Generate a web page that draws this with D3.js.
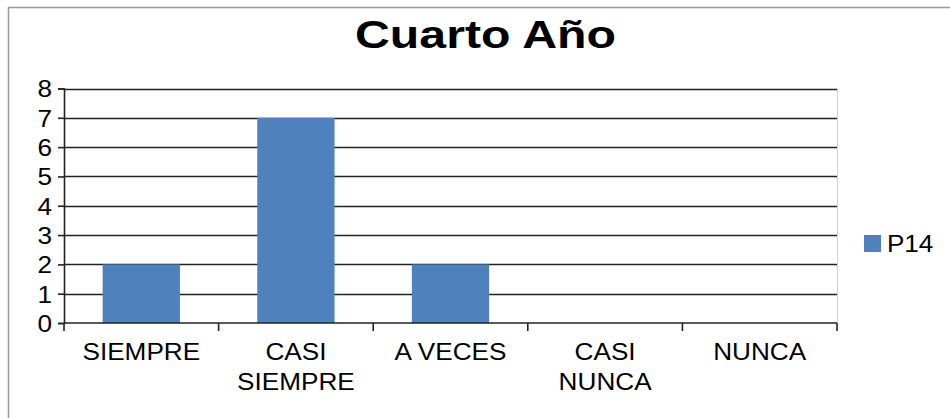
<!DOCTYPE html>
<html>
<head>
<meta charset="utf-8">
<script src="https://cdn.jsdelivr.net/npm/d3@7"></script>
<style>
  body { margin: 0; background: #fff; }
  text { font-family: "Liberation Sans", Arial, sans-serif; fill: #000; }
</style>
</head>
<body>
<script>
const width = 950;
const height = 418;

const title = 'Cuarto Año';
const categories = [['SIEMPRE'], ['CASI', 'SIEMPRE'], ['A VECES'], ['CASI', 'NUNCA'], ['NUNCA']];
const seriesName = 'P14';
const values = [2, 7, 2, 0, 0];
const yTicks = [0, 1, 2, 3, 4, 5, 6, 7, 8];

const plot = { left: 64, right: 837, top: 88.5, bottom: 323 };
const stretch = 1.09;
const fontSize = 24;

const keys = categories.map(c => c.join(' '));

const svg = d3.select('body')
  .append('svg')
  .attr('width', width)
  .attr('height', height);

// outer chart border
svg.append('rect')
  .attr('x', 8.5)
  .attr('y', 7.5)
  .attr('width', width)
  .attr('height', height)
  .attr('fill', 'none')
  .attr('stroke', '#9a9a9a')
  .attr('stroke-width', 1.5);

svg.append('text')
  .attr('x', 485.5)
  .attr('y', 48)
  .attr('text-anchor', 'middle')
  .attr('font-size', 39)
  .attr('font-weight', 'bold')
  .attr('textLength', 261)
  .attr('lengthAdjust', 'spacingAndGlyphs')
  .text(title);

const x = d3.scaleBand()
  .domain(keys)
  .range([plot.left, plot.right])
  .paddingInner(0.5)
  .paddingOuter(0.25);

const y = d3.scaleLinear()
  .domain([0, 8])
  .range([plot.bottom, plot.top]);

// plot area right border
svg.append('line')
  .attr('x1', plot.right + 0.5)
  .attr('x2', plot.right + 0.5)
  .attr('y1', plot.top)
  .attr('y2', plot.bottom)
  .attr('stroke', '#d0d0d0')
  .attr('stroke-width', 1);

// gridlines
svg.append('g')
  .selectAll('line')
  .data(yTicks.slice(1))
  .join('line')
  .attr('x1', plot.left)
  .attr('x2', plot.right)
  .attr('y1', d => Math.round(y(d)) + 0.5)
  .attr('y2', d => Math.round(y(d)) + 0.5)
  .attr('stroke', '#222')
  .attr('stroke-width', 1.6);

svg.append('g')
  .selectAll('rect')
  .data(values)
  .join('rect')
  .attr('x', (d, i) => x(keys[i]))
  .attr('y', d => y(d))
  .attr('width', x.bandwidth())
  .attr('height', d => y(0) - y(d))
  .attr('fill', '#4f81bd');

// y axis
const gy = svg.append('g')
  .attr('transform', `translate(${plot.left},0)`)
  .call(d3.axisLeft(y).tickValues(yTicks).tickSize(6).tickPadding(7));
gy.select('.domain').attr('stroke', '#222').attr('stroke-width', 1.6);
gy.selectAll('.tick line').attr('stroke', '#222').attr('stroke-width', 1.6);
gy.selectAll('.tick text')
  .attr('font-size', fontSize)
  .attr('font-family', '"Liberation Sans", Arial, sans-serif')
  .attr('fill', '#000')
  .attr('x', 0)
  .attr('dy', '0.35em')
  .attr('transform', `translate(-12,0) scale(${stretch},1)`);

// x axis (ticks at category boundaries)
const boundaries = keys.map(k => x(k) - x.step() * 0.25).concat([plot.right]);
const gx = svg.append('g');
gx.append('line')
  .attr('x1', plot.left)
  .attr('x2', plot.right)
  .attr('y1', plot.bottom)
  .attr('y2', plot.bottom)
  .attr('stroke', '#222')
  .attr('stroke-width', 1.6);
gx.selectAll('.btick')
  .data(boundaries)
  .join('line')
  .attr('class', 'btick')
  .attr('x1', d => d)
  .attr('x2', d => d)
  .attr('y1', plot.bottom)
  .attr('y2', plot.bottom + 8)
  .attr('stroke', '#222')
  .attr('stroke-width', 1.6);

gx.selectAll('.lbl')
  .data(categories)
  .join('text')
  .attr('class', 'lbl')
  .attr('text-anchor', 'middle')
  .attr('font-size', fontSize)
  .attr('transform', (d, i) => `translate(${x(keys[i]) + x.bandwidth() / 2},360) scale(${stretch},1)`)
  .selectAll('tspan')
  .data(d => d)
  .join('tspan')
  .attr('x', 0)
  .attr('y', (d, j) => j * 30)
  .text(d => d);

// legend
const legend = svg.append('g').attr('transform', 'translate(864,235)');
legend.append('rect')
  .attr('width', 17)
  .attr('height', 17)
  .attr('fill', '#4f81bd');
legend.append('text')
  .attr('x', 21)
  .attr('y', 17)
  .attr('font-size', fontSize)
  .attr('transform', `scale(${stretch},1)`)
  .text(seriesName);
</script>
</body>
</html>
